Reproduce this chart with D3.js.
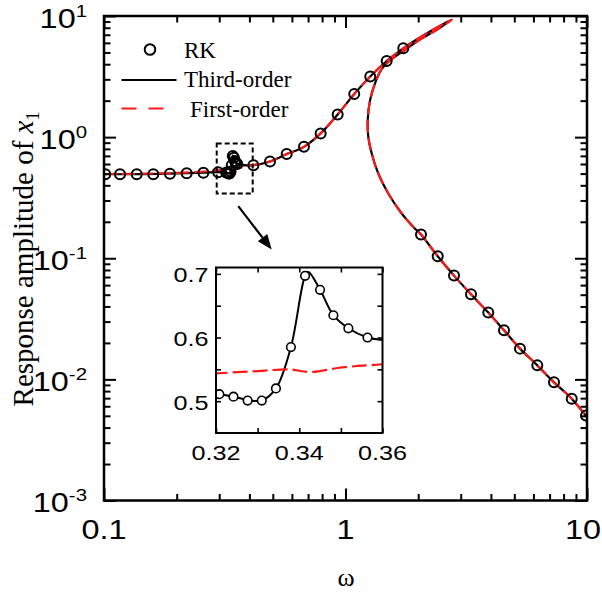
<!DOCTYPE html>
<html>
<head>
<meta charset="utf-8">
<script src="https://cdn.jsdelivr.net/npm/d3@7"></script>
<style>
  body { margin: 0; background: #fff; }
  svg { display: block; }
</style>
</head>
<body>
<svg id="chart" width="602" height="595"></svg>
<script>
// ---- Runge-Kutta samples (frequency, amplitude) ----
const rkOmega = [0.1012, 0.1165, 0.1366, 0.160, 0.1875, 0.220, 0.258, 0.297,
  0.3208, 0.3242, 0.3276, 0.3310, 0.3344, 0.3380, 0.3414, 0.3450, 0.3482, 0.3518, 0.3564,
  0.4156, 0.4868, 0.5707, 0.673, 0.789, 0.928, 1.087, 1.266, 1.481, 1.735,
  2.054, 2.409, 2.814, 3.309, 3.902, 4.532, 5.279, 6.226, 7.301, 8.643, 9.906];
const rkAmp = [0.494, 0.494, 0.494, 0.494, 0.499, 0.504, 0.509, 0.514,
  0.511, 0.507, 0.501, 0.501, 0.520, 0.585, 0.697, 0.675, 0.635, 0.6145, 0.600,
  0.587, 0.630, 0.724, 0.831, 1.073, 1.54, 2.27, 3.17, 4.25, 5.41,
  0.157, 0.1039, 0.0719, 0.0504, 0.0356, 0.0254, 0.01794, 0.01305, 0.00945, 0.00693, 0.00504];

// ---- Third-order approximation: upper branch, turning back along the unstable branch, then lower branch ----
const thirdOmega = [0.1, 0.13, 0.17, 0.22, 0.26, 0.297,
  0.3208, 0.3242, 0.3276, 0.3310, 0.3344, 0.3380, 0.3414, 0.3422, 0.3450, 0.3482, 0.3518, 0.3564, 0.36,
  0.37, 0.39, 0.4156, 0.4868, 0.5707, 0.673, 0.789, 0.928, 1.087, 1.266, 1.481, 1.735, 2.034, 2.392, 2.753,
  2.415, 2.034, 1.735, 1.529, 1.403, 1.325, 1.264, 1.236, 1.243, 1.284, 1.367, 1.504, 1.709, 1.909,
  2.054, 2.409, 2.814, 3.309, 3.902, 4.532, 5.279, 6.226, 7.301, 8.643, 10];
const thirdAmp = [0.494, 0.494, 0.497, 0.504, 0.509, 0.514,
  0.511, 0.507, 0.502, 0.501, 0.520, 0.585, 0.697, 0.703, 0.675, 0.635, 0.6145, 0.600, 0.596,
  0.590, 0.584, 0.587, 0.630, 0.724, 0.831, 1.073, 1.54, 2.27, 3.17, 4.25, 5.41, 6.64, 8.03, 9.36,
  7.81, 6.39, 5.14, 4.29, 3.58, 2.78, 2.02, 1.382, 1.006, 0.733, 0.501, 0.3425, 0.234, 0.1814,
  0.157, 0.1039, 0.0719, 0.0504, 0.0356, 0.0254, 0.01794, 0.01305, 0.00945, 0.00693, 0.00488];

// ---- First-order approximation ----
const firstOmega = [0.1, 0.15, 0.2, 0.25, 0.3, 0.32, 0.33, 0.3377, 0.3426, 0.3503, 0.36, 0.39,
  0.4156, 0.4868, 0.5707, 0.673, 0.789, 0.928, 1.087, 1.266, 1.481, 1.735, 2.034, 2.392, 2.76,
  2.415, 2.034, 1.735, 1.529, 1.403, 1.325, 1.264, 1.236, 1.243, 1.284, 1.367, 1.504, 1.709, 1.909,
  2.054, 2.409, 2.814, 3.309, 3.902, 4.532, 5.279, 6.226, 7.301, 8.643, 10];
const firstAmp = [0.496, 0.500, 0.506, 0.517, 0.535, 0.5436, 0.5472, 0.550, 0.5457, 0.553, 0.558, 0.573,
  0.587, 0.630, 0.724, 0.831, 1.073, 1.54, 2.27, 3.17, 4.25, 5.41, 6.64, 8.05, 9.3,
  7.81, 6.39, 5.14, 4.29, 3.58, 2.78, 2.02, 1.382, 1.006, 0.733, 0.501, 0.3425, 0.234, 0.1814,
  0.157, 0.1039, 0.0719, 0.0504, 0.0356, 0.0254, 0.01794, 0.01305, 0.00945, 0.00693, 0.00488];

// ---- Axis ticks and labels ----
const xMajor = [0.1, 1, 10];
const xLabels = ["0.1", "1", "10"];
const yExponents = [1, 0, -1, -2, -3];
const insetXMajor = [0.32, 0.34, 0.36];
const insetXLabels = ["0.32", "0.34", "0.36"];
const insetXMinor = [0.33, 0.35];
const insetYMajor = [0.5, 0.6, 0.7];
const insetYLabels = ["0.5", "0.6", "0.7"];
const insetYMinor = [0.55, 0.65];
const legendLabels = ["RK", "Third-order", "First-order"];

// zoom window marked on the main plot, and the arrow pointing to the inset
const zoomOmega = [0.2929, 0.4128];
const zoomAmp = [0.3425, 0.887];
const arrowOmega = [0.3597, 0.4948];
const arrowAmp = [0.269, 0.118];

// ---- Layout ----
const svg = d3.select("#chart");
const W = 602;
const M = { left: 104, top: 16, right: 587, bottom: 500.5 };
const IN = { left: 216, top: 267.5, right: 382.5, bottom: 433 };
const SANS = "'Liberation Sans', Arial, sans-serif";
const SERIF = "'Liberation Serif', 'Times New Roman', serif";
const RED = "#ff1a1a";

const x = d3.scaleLog().domain([0.1, 10]).range([M.left, M.right]);
const y = d3.scaleLog().domain([1e-3, 10]).range([M.bottom, M.top]);
const xi = d3.scaleLinear().domain([0.32, 0.36]).range([IN.left, IN.right]);
const yi = d3.scaleLinear().domain([0.45, 0.71]).range([IN.bottom, IN.top]);

const zip = (a, b) => a.map((v, i) => [v, b[i]]);
const rk = zip(rkOmega, rkAmp);
const third = zip(thirdOmega, thirdAmp);
const first = zip(firstOmega, firstAmp);

const defs = svg.append("defs");
defs.append("clipPath").attr("id", "mainClip").append("rect")
  .attr("x", M.left).attr("y", M.top)
  .attr("width", M.right - M.left).attr("height", M.bottom - M.top);
defs.append("clipPath").attr("id", "insetClip").append("rect")
  .attr("x", IN.left).attr("y", IN.top)
  .attr("width", IN.right - IN.left).attr("height", IN.bottom - IN.top);

// ---- Main curves ----
const curve = d3.curveCatmullRom.alpha(0.5);
const lineMain = d3.line().x(d => x(d[0])).y(d => y(d[1])).curve(curve);
const gMain = svg.append("g").attr("clip-path", "url(#mainClip)");

gMain.append("path").datum(third).attr("d", lineMain)
  .attr("fill", "none").attr("stroke", "#000").attr("stroke-width", 2.2);
gMain.append("path").datum(first).attr("d", lineMain)
  .attr("fill", "none").attr("stroke", RED).attr("stroke-width", 2.2)
  .attr("stroke-dasharray", "13,5");
gMain.selectAll("circle.rk").data(rk).join("circle")
  .attr("class", "rk")
  .attr("cx", d => x(d[0])).attr("cy", d => y(d[1])).attr("r", 5)
  .attr("fill", "none").attr("stroke", "#000").attr("stroke-width", 2);

// ---- Main axes: inward ticks on all four sides ----
const xMinor = x.ticks().filter(v => !xMajor.some(m => Math.abs(m - v) < 1e-9));
const yAll = y.ticks();
const yMajorVals = yExponents.map(e => Math.pow(10, e));
const yMinor = yAll.filter(v => !yMajorVals.some(m => Math.abs(m - v) / m < 1e-6));

function ticks(gen, scale, vals, size, tr, width) {
  svg.append("g").attr("transform", tr)
    .call(gen(scale).tickValues(vals).tickSize(size).tickSizeOuter(0).tickFormat(""))
    .call(s => s.select(".domain").remove())
    .call(s => s.selectAll("text").remove())
    .call(s => s.selectAll("line").attr("stroke", "#000").attr("stroke-width", width));
}
ticks(d3.axisBottom, x, xMajor, -12, `translate(0,${M.bottom})`, 2);
ticks(d3.axisBottom, x, xMinor, -6.5, `translate(0,${M.bottom})`, 2);
ticks(d3.axisTop, x, xMajor, -12, `translate(0,${M.top})`, 2);
ticks(d3.axisTop, x, xMinor, -6.5, `translate(0,${M.top})`, 2);
ticks(d3.axisLeft, y, yMajorVals, -12, `translate(${M.left},0)`, 2);
ticks(d3.axisLeft, y, yMinor, -6.5, `translate(${M.left},0)`, 2);
ticks(d3.axisRight, y, yMajorVals, -12, `translate(${M.right},0)`, 2);
ticks(d3.axisRight, y, yMinor, -6.5, `translate(${M.right},0)`, 2);

svg.append("rect")
  .attr("x", M.left).attr("y", M.top)
  .attr("width", M.right - M.left).attr("height", M.bottom - M.top)
  .attr("fill", "none").attr("stroke", "#000").attr("stroke-width", 2.5);

// tick labels (the last one is held inside the right edge of the page)
svg.selectAll("text.xlab").data(xMajor).join("text")
  .attr("class", "xlab")
  .attr("transform", (d, i) => i === xMajor.length - 1
    ? `translate(${W - 1},538.5) scale(1.2,1)`
    : `translate(${x(d)},538.5) scale(1.2,1)`)
  .attr("text-anchor", (d, i) => i === xMajor.length - 1 ? "end" : "middle")
  .style("font-family", SANS).style("font-size", "27px")
  .text((d, i) => xLabels[i]);

const yl = svg.selectAll("text.ylab").data(yExponents).join("text")
  .attr("class", "ylab")
  .attr("transform", e => `translate(87,${y(Math.pow(10, e)) + 11.5}) scale(1.2,1)`)
  .attr("text-anchor", "end")
  .style("font-family", SANS).style("font-size", "27px");
yl.append("tspan").text("10");
yl.append("tspan").attr("dy", -11).style("font-size", "17px").text(e => String(e));

// axis titles
svg.append("text")
  .attr("x", 346).attr("y", 586)
  .attr("text-anchor", "middle")
  .style("font-family", SERIF).style("font-size", "26px")
  .text("ω");

const title = svg.append("text")
  .attr("transform", "translate(33,259) rotate(-90)")
  .attr("text-anchor", "middle")
  .style("font-family", SERIF).style("font-size", "29px");
title.append("tspan").text("Response amplitude of ");
title.append("tspan").style("font-style", "italic").text("x");
title.append("tspan").attr("dy", 6).style("font-size", "18px").text("1");

// ---- Legend ----
const lg = svg.append("g").style("font-family", SERIF).style("font-size", "23px");
lg.append("circle").attr("cx", 150).attr("cy", 49.5).attr("r", 5.3)
  .attr("fill", "none").attr("stroke", "#000").attr("stroke-width", 2);
lg.append("line").attr("x1", 121.5).attr("x2", 176.5).attr("y1", 80).attr("y2", 80)
  .attr("stroke", "#000").attr("stroke-width", 2.2);
lg.append("line").attr("x1", 121.5).attr("x2", 163.5).attr("y1", 108.5).attr("y2", 108.5)
  .attr("stroke", RED).attr("stroke-width", 2.2).attr("stroke-dasharray", "15,12");
lg.append("text").attr("x", 184).attr("y", 57.5).text(legendLabels[0]);
lg.append("text").attr("x", 184).attr("y", 87).text(legendLabels[1]);
lg.append("text").attr("x", 190).attr("y", 116.5).text(legendLabels[2]);

// ---- Zoom window and arrow ----
svg.append("rect")
  .attr("x", x(zoomOmega[0])).attr("y", y(zoomAmp[1]))
  .attr("width", x(zoomOmega[1]) - x(zoomOmega[0]))
  .attr("height", y(zoomAmp[0]) - y(zoomAmp[1]))
  .attr("fill", "none").attr("stroke", "#000").attr("stroke-width", 2)
  .attr("stroke-dasharray", "5,3");

(function drawArrow() {
  const x1 = x(arrowOmega[0]), y1 = y(arrowAmp[0]);
  const x2 = x(arrowOmega[1]), y2 = y(arrowAmp[1]);
  const ang = Math.atan2(y2 - y1, x2 - x1);
  const headLen = 15, headHalf = 6;
  const bx = x2 - headLen * Math.cos(ang), by = y2 - headLen * Math.sin(ang);
  svg.append("line").attr("x1", x1).attr("y1", y1).attr("x2", bx).attr("y2", by)
    .attr("stroke", "#000").attr("stroke-width", 2.2);
  const px = -Math.sin(ang), py = Math.cos(ang);
  svg.append("path")
    .attr("d", `M${x2},${y2}L${bx + px * headHalf},${by + py * headHalf}L${bx - px * headHalf},${by - py * headHalf}Z`)
    .attr("fill", "#000");
})();

// ---- Inset ----
svg.append("rect")
  .attr("x", IN.left).attr("y", IN.top)
  .attr("width", IN.right - IN.left).attr("height", IN.bottom - IN.top)
  .attr("fill", "#fff");

const lineInset = d3.line().x(d => xi(d[0])).y(d => yi(d[1])).curve(curve);
const near = d => d[0] > 0.25 && d[0] < 0.45 && d[1] < 1;
const gIn = svg.append("g").attr("clip-path", "url(#insetClip)");
gIn.append("path").datum(third.slice(0, 22).filter(near)).attr("d", lineInset)
  .attr("fill", "none").attr("stroke", "#000").attr("stroke-width", 2);
gIn.append("path").datum(first.slice(0, 13).filter(near)).attr("d", lineInset)
  .attr("fill", "none").attr("stroke", RED).attr("stroke-width", 2.2)
  .attr("stroke-dasharray", "15,5");
gIn.selectAll("circle").data(rk.filter(d => d[0] >= 0.32 && d[0] <= 0.36)).join("circle")
  .attr("cx", d => xi(d[0])).attr("cy", d => yi(d[1])).attr("r", 4.3)
  .attr("fill", "#fff").attr("stroke", "#000").attr("stroke-width", 1.6);

function iticks(gen, scale, vals, size, tr) {
  svg.append("g").attr("transform", tr)
    .call(gen(scale).tickValues(vals).tickSize(size).tickSizeOuter(0).tickFormat(""))
    .call(s => s.select(".domain").remove())
    .call(s => s.selectAll("text").remove())
    .call(s => s.selectAll("line").attr("stroke", "#000").attr("stroke-width", 1.6));
}
const ixAll = insetXMajor.concat(insetXMinor), iyAll = insetYMajor.concat(insetYMinor);
iticks(d3.axisBottom, xi, ixAll, -5, `translate(0,${IN.bottom})`);
iticks(d3.axisTop, xi, ixAll, -5, `translate(0,${IN.top})`);
iticks(d3.axisLeft, yi, iyAll, -5, `translate(${IN.left},0)`);
iticks(d3.axisRight, yi, iyAll, -5, `translate(${IN.right},0)`);

svg.append("rect")
  .attr("x", IN.left).attr("y", IN.top)
  .attr("width", IN.right - IN.left).attr("height", IN.bottom - IN.top)
  .attr("fill", "none").attr("stroke", "#000").attr("stroke-width", 2);

svg.selectAll("text.ixlab").data(insetXMajor).join("text")
  .attr("class", "ixlab")
  .attr("transform", d => `translate(${xi(d)},460) scale(1.2,1)`)
  .attr("text-anchor", "middle")
  .style("font-family", SANS).style("font-size", "21px")
  .text((d, i) => insetXLabels[i]);
svg.selectAll("text.iylab").data(insetYMajor).join("text")
  .attr("class", "iylab")
  .attr("transform", d => `translate(208.5,${yi(d) + 8.5}) scale(1.2,1)`)
  .attr("text-anchor", "end")
  .style("font-family", SANS).style("font-size", "21px")
  .text((d, i) => insetYLabels[i]);
</script>
</body>
</html>
